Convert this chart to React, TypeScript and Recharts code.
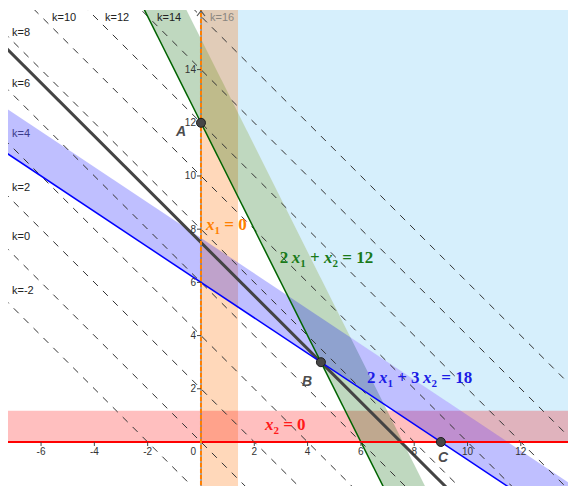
// Lineare Optimierung — Zielfunktion x1 + x2 = k über dem zulässigen Bereich
import React from 'react'
import { ComposedChart, XAxis, YAxis, Line, Area, Scatter } from 'recharts'

// sichtbares Fenster
const xDomain = [-7.24, 13.77]
const yDomain = [-1.655, 16.24]

// Niveaulinien x1 + x2 = k
const kLevels = [-2, 0, 2, 4, 6, 8, 10, 12, 14, 16]
const kLabelX = [-7.09, -7.09, -7.09, -7.09, -7.09, -7.09, -5.59, -3.6, -1.65, 0.34]
const kLabelY = [5.71, 7.74, 9.59, 11.62, 13.5, 15.41, 15.98, 15.98, 15.98, 15.98]

// optimale Niveaulinie durch B
const optimumLine = [{ x: -10, y: 17.5 }, { x: 20, y: -12.5 }]

// Randgeraden der Nebenbedingungen
const line2x1x2 = [{ x: -3, y: 18 }, { x: 10, y: -8 }]
const line2x13x2 = [{ x: -12, y: 14 }, { x: 21, y: -8 }]
const lineX2 = [{ x: -10, y: 0 }, { x: 20, y: 0 }]
const lineX1 = [{ x: 0, y: -5 }, { x: 0, y: 20 }]

// schattierte Streifen [unten, oben]
const strip2x1x2 = [{ x: -3, r: [18, 21.15] }, { x: 10, r: [-8, -4.85] }]
const strip2x13x2 = [{ x: -12, r: [14, 15.67] }, { x: 21, r: [-8, -6.33] }]
const stripX1 = [{ x: 0, r: [-5, 20] }, { x: 1.39, r: [-5, 20] }]
const stripX2 = [{ x: -10, r: [0, 1.17] }, { x: 20, r: [0, 1.17] }]
const region = [
  { x: 0, r: [15.15, 20] },
  { x: 5.61, r: [3.93, 20] },
  { x: 11.5, r: [0, 20] },
  { x: 20, r: [0, 20] },
]

// Ecken
const vertices = [
  { x: 0, y: 12 },
  { x: 4.5, y: 3 },
  { x: 9, y: 0 },
]
const vertexNames = ['A', 'B', 'C']
const vertexLabelX = [-0.75, 3.98, 9.08]
const vertexLabelY = [11.69, 2.29, -0.56]

// Gleichungen
const eqNames = ['x1', 'g1', 'g2', 'x2']
const eqX = [0.19, 2.96, 6.23, 2.4]
const eqY = [7.97, 6.73, 2.22, 0.45]
const eqParts = [
  [['x', 'i'], ['1', 's'], [' = 0', 'n']],
  [['2\u2009', 'n'], ['x', 'i'], ['1', 's'], [' + ', 'n'], ['x', 'i'], ['2', 's'], [' = 12', 'n']],
  [['2\u2009', 'n'], ['x', 'i'], ['1', 's'], [' + 3\u2009', 'n'], ['x', 'i'], ['2', 's'], [' = 18', 'n']],
  [['x', 'i'], ['2', 's'], [' = 0', 'n']],
]

// Achsenbeschriftung
const xTicks = [-6, -4, -2, 2, 4, 6, 8, 10, 12]
const yTicks = [2, 4, 6, 8, 10, 12, 14]

const eqColor: Record<string, string> = { x1: '#ff8000', g1: '#1a7a1a', g2: '#1c1ce6', x2: '#ff1a1a' }
const kColor = (k: number) => (k === 16 ? '#8a8680' : k === 4 ? '#3c3c8c' : '#222')

const levelLine = (k: number) => [{ x: -10, y: k + 10 }, { x: 20, y: k - 20 }]

const sans = "'Liberation Sans', Arial, sans-serif"
const serif = "'Liberation Serif', 'Times New Roman', serif"

function EqShape(props: any) {
  const { cx, cy, payload } = props
  let shift = 0
  const spans = payload.parts.map((p: string[], i: number) => {
    const target = p[1] === 's' ? 4 : 0
    const dy = target - shift
    shift = target
    return (
      <tspan key={i} dy={dy} fontStyle={p[1] === 'i' ? 'italic' : 'normal'} fontSize={p[1] === 's' ? 11 : 17}>
        {p[0]}
      </tspan>
    )
  })
  return (
    <text x={cx} y={cy} fill={eqColor[payload.id]} fontFamily={serif} fontWeight="bold">
      {spans}
    </text>
  )
}

export default function App() {
  const kLabels = kLevels.map((k, i) => ({ x: kLabelX[i], y: kLabelY[i], k }))
  const vLabels = vertexNames.map((n, i) => ({ x: vertexLabelX[i], y: vertexLabelY[i], n }))
  const xTickData = xTicks.map(v => ({ x: v, y: 0 }))
  const yTickData = yTicks.map(v => ({ x: 0, y: v }))

  return (
    <div style={{ width: 568, height: 486, position: 'relative', overflow: 'hidden', background: '#fff' }}>
      <style>{'body{margin:0}'}</style>
      <div style={{ position: 'absolute', left: 8, top: 10 }}>
        <ComposedChart width={560} height={476} margin={{ top: 0, right: 0, bottom: 0, left: 0 }}>
          <XAxis type="number" dataKey="x" domain={xDomain} allowDataOverflow hide />
          <YAxis type="number" dataKey="y" domain={yDomain} allowDataOverflow hide />

          <Area data={region} dataKey="r" type="linear" stroke="none" fill="#d6effc" fillOpacity={1} isAnimationActive={false} dot={false} activeDot={false} />
          <Area data={stripX1} dataKey="r" type="linear" stroke="none" fill="#ff6f00" fillOpacity={0.27} isAnimationActive={false} dot={false} activeDot={false} />
          <Area data={stripX2} dataKey="r" type="linear" stroke="none" fill="#ff0000" fillOpacity={0.25} isAnimationActive={false} dot={false} activeDot={false} />
          <Area data={strip2x1x2} dataKey="r" type="linear" stroke="none" fill="#006400" fillOpacity={0.25} isAnimationActive={false} dot={false} activeDot={false} />
          <Area data={strip2x13x2} dataKey="r" type="linear" stroke="none" fill="#0000ff" fillOpacity={0.25} isAnimationActive={false} dot={false} activeDot={false} />

          {kLevels.map(k => (
            <Line key={k} data={levelLine(k)} dataKey="y" type="linear" stroke="#333" strokeWidth={1} strokeDasharray="7 7" dot={false} activeDot={false} isAnimationActive={false} />
          ))}

          {/* Achsen */}
          <Line data={lineX2} dataKey="y" type="linear" stroke="#555" strokeWidth={1} dot={false} activeDot={false} isAnimationActive={false} />
          <Line data={lineX1} dataKey="y" type="linear" stroke="#555" strokeWidth={1} dot={false} activeDot={false} isAnimationActive={false} />

          <Line data={optimumLine} dataKey="y" type="linear" stroke="#444" strokeWidth={3} dot={false} activeDot={false} isAnimationActive={false} />
          <Line data={line2x1x2} dataKey="y" type="linear" stroke="#006400" strokeWidth={1.5} dot={false} activeDot={false} isAnimationActive={false} />
          <Line data={line2x13x2} dataKey="y" type="linear" stroke="#0000ff" strokeWidth={1.5} dot={false} activeDot={false} isAnimationActive={false} />
          <Line data={lineX2} dataKey="y" type="linear" stroke="#ff0000" strokeWidth={2} dot={false} activeDot={false} isAnimationActive={false} />
          <Line data={lineX1} dataKey="y" type="linear" stroke="#ff7f00" strokeWidth={2} strokeDasharray="4 2" dot={false} activeDot={false} isAnimationActive={false} />

          <Scatter
            data={xTickData}
            isAnimationActive={false}
            shape={(p: any) => (
              <g>
                <line x1={p.cx} y1={p.cy} x2={p.cx} y2={p.cy + 4} stroke="#444" />
                <text x={p.cx} y={p.cy + 13} textAnchor="middle" fontFamily={sans} fontSize={10} fill="#333">
                  {p.payload.x}
                </text>
              </g>
            )}
          />
          <Scatter
            data={yTickData}
            isAnimationActive={false}
            shape={(p: any) => (
              <g>
                <line x1={p.cx - 4} y1={p.cy} x2={p.cx} y2={p.cy} stroke="#444" />
                <text x={p.cx - 5} y={p.cy + 3.5} textAnchor="end" fontFamily={sans} fontSize={10} fill="#333">
                  {p.payload.y}
                </text>
              </g>
            )}
          />
          <Scatter
            data={[{ x: 0, y: 0 }]}
            isAnimationActive={false}
            shape={(p: any) => (
              <text x={p.cx - 5} y={p.cy + 13} textAnchor="end" fontFamily={sans} fontSize={10} fill="#333">0</text>
            )}
          />
          <Scatter
            data={[{ x: 0, y: yDomain[1] }]}
            isAnimationActive={false}
            shape={(p: any) => (
              <path d={`M${p.cx - 4},${p.cy + 6} L${p.cx},${p.cy + 1} L${p.cx + 4},${p.cy + 6}`} stroke="#555" strokeWidth={1.2} fill="none" />
            )}
          />

          <Scatter
            data={kLabels}
            isAnimationActive={false}
            shape={(p: any) => (
              <text x={p.cx} y={p.cy + 4} fontFamily={sans} fontSize={11} fill={kColor(p.payload.k)}>
                {'k=' + p.payload.k}
              </text>
            )}
          />

          {eqNames.map((id, i) => (
            <Scatter
              key={id}
              data={[{ x: eqX[i], y: eqY[i], id, parts: eqParts[i] }]}
              isAnimationActive={false}
              shape={EqShape}
            />
          ))}

          <Scatter
            data={vertices}
            isAnimationActive={false}
            shape={(p: any) => <circle cx={p.cx} cy={p.cy} r={4.5} fill="#464646" stroke="#1e1e1e" strokeWidth={1} />}
          />
          <Scatter
            data={vLabels}
            isAnimationActive={false}
            shape={(p: any) => (
              <text x={p.cx} y={p.cy + 5} textAnchor="middle" fontFamily={sans} fontSize={14} fontWeight="bold" fontStyle="italic" fill="#4d4d4d">
                {p.payload.n}
              </text>
            )}
          />
        </ComposedChart>
      </div>
    </div>
  )
}
